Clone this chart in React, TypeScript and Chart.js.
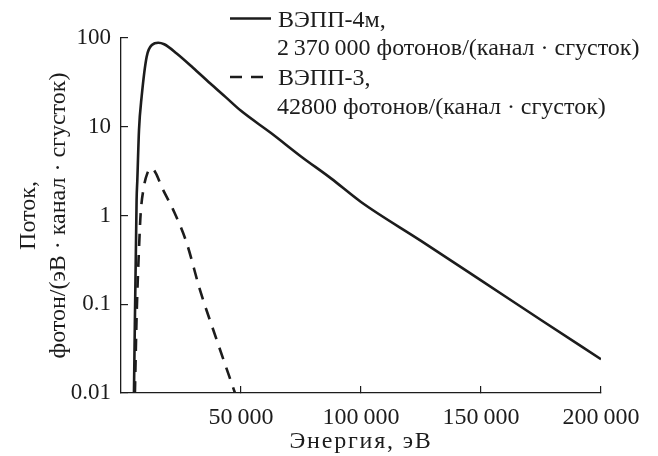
import React, { useEffect, useRef } from 'react';
import { Chart, registerables } from 'chart.js';

Chart.register(...registerables);

// ВЭПП-4м spectrum (energy, eV -> flux)
const energyVepp4m = [5400, 6500, 6800, 7500, 8600, 10700, 13000, 15500, 18000, 23200, 30000, 37100, 43500, 50000, 62500, 75000, 87500, 100000, 125000, 150000, 175000, 200000];
const fluxVepp4m = [0.01, 1.5, 2.5, 9.2, 21.8, 61.6, 84, 88.5, 85, 67, 46.3, 30.9, 21.7, 15.1, 8.5, 4.63, 2.62, 1.42, 0.518, 0.186, 0.0665, 0.024];

// ВЭПП-3 spectrum
const energyVepp3 = [5800, 6500, 7600, 8200, 9300, 11000, 12800, 14500, 16950, 21800, 27400, 32900, 39900, 47500];
const fluxVepp3 = [0.01, 0.072, 0.49, 1.06, 1.94, 3.0, 3.4, 3.0, 2.1, 1.15, 0.487, 0.145, 0.0395, 0.01];

const xTicks = [50000, 100000, 150000, 200000];
const xTickLabels = ['50\u2009000', '100\u2009000', '150\u2009000', '200\u2009000'];
const yTicks = [0.01, 0.1, 1, 10, 100];
const yTickLabels = ['0.01', '0.1', '1', '10', '100'];

const seriesNames = ['ВЭПП-4м,', 'ВЭПП-3,'];
const seriesNotes = ['2\u2009370\u2009000 фотонов/(канал · сгусток)', '42800 фотонов/(канал · сгусток)'];

const xTitle = 'Энергия, эВ';
const yTitle = ['Поток,', 'фотон/(эВ · канал · сгусток)'];

const INK = '#1c1c1c';
const FONT_FAMILY = '"Liberation Serif"';
const FONT_SIZE = 24;
const Y_TICK_SIZE = 23;

const legendPlugin = {
  id: 'paperLegend',
  afterDraw(chart: any) {
    const ctx = chart.ctx as CanvasRenderingContext2D;
    ctx.save();
    ctx.font = `${FONT_SIZE}px ${FONT_FAMILY}`;
    ctx.fillStyle = INK;
    ctx.textAlign = 'left';
    ctx.textBaseline = 'alphabetic';
    chart.data.datasets.forEach((ds: any, i: number) => {
      const rowTop = i * 58.5;
      ctx.save();
      ctx.strokeStyle = INK;
      ctx.lineWidth = ds.borderWidth;
      ctx.setLineDash(ds.borderDash || []);
      ctx.beginPath();
      ctx.moveTo(230, rowTop + 18.5);
      ctx.lineTo(271, rowTop + 18.5);
      ctx.stroke();
      ctx.restore();
      ctx.fillText(seriesNames[i], 278, rowTop + 26.5);
      ctx.fillText(seriesNotes[i], 277, rowTop + 55);
    });
    ctx.restore();
  },
};

export default function App() {
  const canvasRef = useRef<HTMLCanvasElement | null>(null);

  useEffect(() => {
    document.body.style.margin = '0';
    const canvas = canvasRef.current;
    if (!canvas) return;
    const warm = canvas.getContext('2d');
    if (warm) {
      warm.font = `${FONT_SIZE}px ${FONT_FAMILY}`;
      warm.measureText('ВЭПП 0123456789 фотонов');
    }
    const font = { family: FONT_FAMILY, size: FONT_SIZE };
    const chart = new Chart(canvas, {
      type: 'line',
      data: {
        datasets: [
          {
            label: seriesNames[0],
            data: energyVepp4m.map((e, i) => ({ x: e, y: fluxVepp4m[i] })),
            borderColor: INK,
            borderWidth: 2.6,
            pointRadius: 0,
            fill: false,
            cubicInterpolationMode: 'monotone',
          },
          {
            label: seriesNames[1],
            data: energyVepp3.map((e, i) => ({ x: e, y: fluxVepp3[i] })),
            borderColor: INK,
            borderWidth: 2.6,
            borderDash: [12, 9],
            pointRadius: 0,
            fill: false,
            cubicInterpolationMode: 'monotone',
          },
        ],
      },
      options: {
        responsive: false,
        animation: false,
        layout: { padding: { left: 0, top: 38, right: 57, bottom: 0 } },
        plugins: { legend: { display: false }, tooltip: { enabled: false } },
        scales: {
          x: {
            type: 'linear',
            min: 0,
            max: 200000,
            afterBuildTicks: (s: any) => {
              s.ticks = xTicks.map((v) => ({ value: v }));
            },
            afterFit: (s: any) => {
              s.height = 63;
              if (!s.__spaced) {
                const orig = s.drawTitle;
                s.drawTitle = function (...args: any[]) {
                  const c = this.ctx;
                  c.save();
                  c.letterSpacing = '1.8px';
                  orig.apply(this, args);
                  c.restore();
                };
                s.__spaced = true;
              }
            },
            ticks: {
              autoSkip: false,
              maxRotation: 0,
              padding: 17,
              color: INK,
              font,
              callback: (_v: any, i: number) => xTickLabels[i],
            },
            grid: { drawOnChartArea: false, drawTicks: true, tickLength: -7, color: INK, lineWidth: 1.2 },
            border: { display: true, color: INK, width: 1.3 },
            title: { display: true, text: xTitle, color: INK, font: { ...font, lineHeight: 1.2 }, padding: { top: 0, bottom: 0 } },
          },
          y: {
            type: 'logarithmic',
            min: 0.01,
            max: 100,
            afterBuildTicks: (s: any) => {
              s.ticks = yTicks.map((v) => ({ value: v }));
            },
            afterFit: (s: any) => {
              s.width = 121;
            },
            ticks: {
              autoSkip: false,
              padding: 17,
              color: INK,
              font: { family: FONT_FAMILY, size: Y_TICK_SIZE },
              callback: (_v: any, i: number) => yTickLabels[i],
            },
            grid: { drawOnChartArea: false, drawTicks: true, tickLength: -7, color: INK, lineWidth: 1.2 },
            border: { display: true, color: INK, width: 1.3 },
            title: { display: true, text: yTitle, color: INK, font: { ...font, lineHeight: 1.25 }, padding: { top: 14, bottom: 0 } },
          },
        },
      },
      plugins: [legendPlugin],
    } as any);

    let alive = true;
    const redraw = () => {
      if (alive) chart.update('none');
    };
    const fonts = (document as any).fonts;
    if (fonts && fonts.load) {
      fonts.load(`${FONT_SIZE}px ${FONT_FAMILY}`, 'ВЭПП 0123456789').then(redraw).catch(() => {});
      if (fonts.ready) fonts.ready.then(redraw).catch(() => {});
    }
    const timers = [0, 50, 200, 600].map((t) => window.setTimeout(redraw, t));
    return () => {
      alive = false;
      timers.forEach((t) => window.clearTimeout(t));
      chart.destroy();
    };
  }, []);

  return (
    <div style={{ width: 658, height: 456, position: 'relative' }}>
      <canvas ref={canvasRef} width={658} height={456} style={{ display: 'block' }} />
      <span
        aria-hidden="true"
        style={{ position: 'absolute', left: 0, top: 0, opacity: 0, pointerEvents: 'none', fontFamily: FONT_FAMILY, fontSize: FONT_SIZE }}
      >
        ВЭПП 0123456789
      </span>
    </div>
  );
}
